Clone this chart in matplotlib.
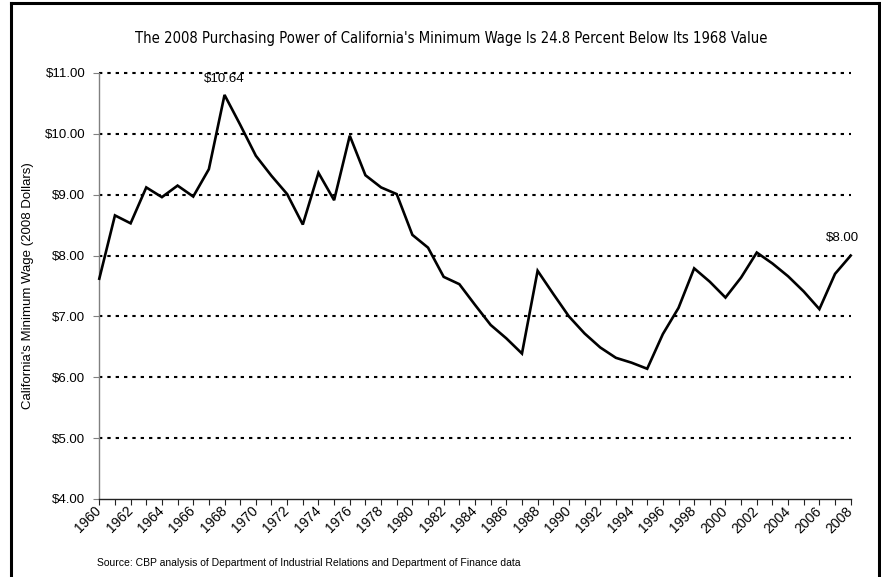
import matplotlib
matplotlib.use("Agg")
import matplotlib.pyplot as plt
from matplotlib.lines import Line2D
from matplotlib.ticker import FixedLocator, FuncFormatter
from matplotlib import font_manager

# ---- data ----
years = list(range(1960, 2009))
wage = [7.62, 8.66, 8.53, 9.12, 8.96, 9.15, 8.97, 9.42, 10.64, 10.15,
        9.64, 9.31, 9.01, 8.51, 9.36, 8.91, 9.97, 9.32, 9.12, 9.01,
        8.34, 8.13, 7.65, 7.53, 7.19, 6.86, 6.64, 6.39, 7.75, 7.37,
        7.00, 6.72, 6.49, 6.32, 6.24, 6.14, 6.71, 7.14, 7.79, 7.57,
        7.31, 7.64, 8.05, 7.87, 7.66, 7.41, 7.12, 7.70, 8.00]
y_ticks = [4, 5, 6, 7, 8, 9, 10, 11]
x_tick_labels = [str(y) if y % 2 == 0 else "" for y in years]
title = "The 2008 Purchasing Power of California's Minimum Wage Is 24.8 Percent Below Its 1968 Value"
ylabel = "California's Minimum Wage (2008 Dollars)"
source = "Source: CBP analysis of Department of Industrial Relations and Department of Finance data"
annot_years = [1968, 2008]

W, H = 881, 577
fig = plt.figure(figsize=(W / 100, H / 100), dpi=100)
fig.patch.set_facecolor("white")

reg = ["Liberation Sans", "DejaVu Sans"]

# choose the narrowest available family for the title
avail = {f.name for f in font_manager.fontManager.ttflist}
cond_dejavu = any(f.name == "DejaVu Sans" and str(f.stretch) in ("condensed", "semi-condensed", "600", "700", "500")
                  for f in font_manager.fontManager.ttflist)
if "Liberation Sans Narrow" in avail:
    title_kw = dict(family=["Liberation Sans Narrow", "DejaVu Sans"])
elif cond_dejavu:
    title_kw = dict(family=["DejaVu Sans"], stretch="condensed")
else:
    title_kw = dict(family=["Liberation Sans", "DejaVu Sans"])

left, right, top, bottom = 99.3, 850.7, 73, 499
ax = fig.add_axes([left / W, 1 - bottom / H, (right - left) / W, (bottom - top) / H])

ax.plot(years, wage, color="black", lw=1.9, solid_joinstyle="miter", clip_on=False, zorder=3)

ax.set_xlim(1960, 2008)
ax.set_ylim(4, 11)

ax.yaxis.set_major_locator(FixedLocator(y_ticks))
ax.yaxis.set_major_formatter(FuncFormatter(lambda v, p: "${:.2f}".format(v)))
ax.set_xticks(years)
ax.set_xticklabels(x_tick_labels)

for v in y_ticks[1:]:
    ax.axhline(v, color="black", lw=1.5, linestyle=(0, (1.6, 2.4)), zorder=1, clip_on=False)

for s in ["top", "right"]:
    ax.spines[s].set_visible(False)
ax.spines["left"].set_color("#808080")
ax.spines["left"].set_linewidth(1.0)
ax.spines["bottom"].set_color("#222222")
ax.spines["bottom"].set_linewidth(1.0)

ax.tick_params(axis="y", direction="out", length=4, width=0.8, color="#808080",
               pad=6, labelsize=9.5)
ax.tick_params(axis="x", direction="out", length=4, width=0.8, color="#222222",
               pad=3, labelsize=10)
for lab in ax.get_yticklabels():
    lab.set_fontfamily(reg)
for lab in ax.get_xticklabels():
    lab.set_fontfamily(reg)
    lab.set_rotation(45)
    lab.set_ha("right")
    lab.set_va("center")
    lab.set_rotation_mode("anchor")

ax.set_ylabel(ylabel, fontsize=9.5, family=reg)
ax.yaxis.set_label_coords(-0.087, 0.5)

# annotations
i0 = years.index(annot_years[0])
ax.annotate("${:.2f}".format(wage[i0]), (years[i0], wage[i0]), xytext=(0, 11.5),
            textcoords="offset points", ha="center", va="center", fontsize=9.5, family=reg)
i1 = years.index(annot_years[1])
ax.annotate("${:.2f}".format(wage[i1]), (years[i1], wage[i1]), xytext=(-6, 12.5),
            textcoords="offset points", ha="center", va="center", fontsize=9.5, family=reg)

t = fig.text(451 / W, 1 - 38 / H, title, ha="center", va="center", fontsize=14, **title_kw)
fig.text(97 / W, 1 - 563 / H, source, ha="left", va="center", fontsize=7.5, family=reg)

# fit title width to the reference (~637 px)
fig.canvas.draw()
wpx = t.get_window_extent().width
t.set_fontsize(14 * 637.0 / wpx)

# frame (left, top, right)
lw_f = 2.2
fig.add_artist(Line2D([10.5 / W, 10.5 / W], [0, 1 - 3 / H], transform=fig.transFigure, color="black", lw=lw_f))
fig.add_artist(Line2D([10.5 / W, 879 / W], [1 - 3 / H, 1 - 3 / H], transform=fig.transFigure, color="black", lw=lw_f))
fig.add_artist(Line2D([879 / W, 879 / W], [0, 1 - 3 / H], transform=fig.transFigure, color="black", lw=lw_f))

fig.savefig("out.png", dpi=100)
